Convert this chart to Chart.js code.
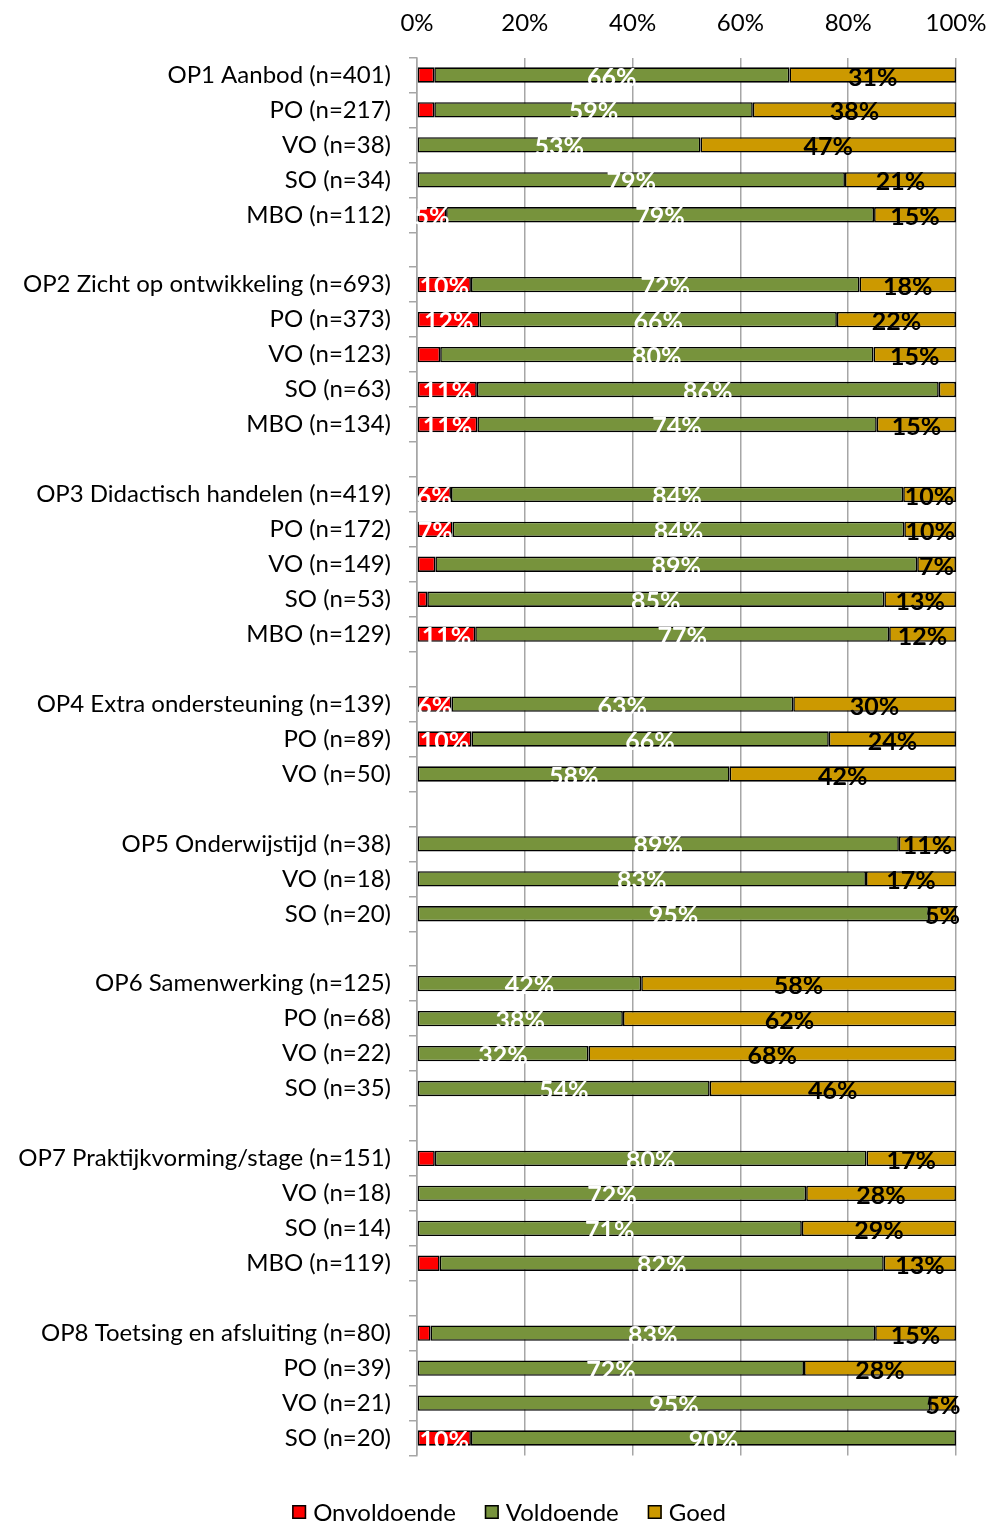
<!DOCTYPE html>
<html lang="nl">
<head>
    <meta charset="UTF-8">
    <title>Oordelen per standaard</title>
    <script src="https://cdn.jsdelivr.net/npm/chart.js"></script>
    <style>
        body {
            margin: 0;
            background: #fff;
        }
        .wrap {
            width: 988px;
            height: 1524px;
        }
    </style>
</head>
<body>
    <div class="wrap">
        <canvas id="chart"></canvas>
    </div>

    <script>
        // categorieen, lege strings zijn de witregels tussen de standaarden
        const categories = [
            'OP1 Aanbod (n=401)', 'PO (n=217)', 'VO (n=38)', 'SO (n=34)', 'MBO (n=112)', '',
            'OP2 Zicht op ontwikkeling (n=693)', 'PO (n=373)', 'VO (n=123)', 'SO (n=63)', 'MBO (n=134)', '',
            'OP3 Didactisch handelen (n=419)', 'PO (n=172)', 'VO (n=149)', 'SO (n=53)', 'MBO (n=129)', '',
            'OP4 Extra ondersteuning (n=139)', 'PO (n=89)', 'VO (n=50)', '',
            'OP5 Onderwijstijd (n=38)', 'VO (n=18)', 'SO (n=20)', '',
            'OP6 Samenwerking (n=125)', 'PO (n=68)', 'VO (n=22)', 'SO (n=35)', '',
            'OP7 Praktijkvorming/stage (n=151)', 'VO (n=18)', 'SO (n=14)', 'MBO (n=119)', '',
            'OP8 Toetsing en afsluiting (n=80)', 'PO (n=39)', 'VO (n=21)', 'SO (n=20)'
        ];

        const onvoldoende = [
            3.2, 3.2, 0, 0, 5.4, null,
            10.0, 11.6, 4.3, 11.1, 11.2, null,
            6.3, 6.6, 3.4, 1.9, 10.8, null,
            6.4, 10.1, 0, null,
            0, 0, 0, null,
            0, 0, 0, 0, null,
            3.3, 0, 0, 4.2, null,
            2.5, 0, 0, 10.0
        ];

        const voldoende = [
            65.9, 59.1, 52.6, 79.4, 79.4, null,
            72.1, 66.3, 80.4, 85.7, 74.1, null,
            83.9, 83.8, 89.4, 84.8, 76.8, null,
            63.4, 66.3, 58.0, null,
            89.4, 83.3, 95.0, null,
            41.6, 38.2, 31.8, 54.3, null,
            80.1, 72.2, 71.4, 82.4, null,
            82.5, 71.8, 95.2, 90.0
        ];

        const goed = [
            30.9, 37.7, 47.4, 20.6, 15.2, null,
            17.9, 22.1, 15.3, 3.2, 14.7, null,
            9.8, 9.6, 7.2, 13.3, 12.4, null,
            30.2, 23.6, 42.0, null,
            10.6, 16.7, 5.0, null,
            58.4, 61.8, 68.2, 45.7, null,
            16.6, 27.8, 28.6, 13.4, null,
            15.0, 28.2, 4.8, 0
        ];

        const xTicks = [0, 20, 40, 60, 80, 100];

        const FONT = 'Lato, "Open Sans", sans-serif';
        const GRID = '#a6a6a6';

        // percentages in de balken tekenen (geen datalabels plugin beschikbaar)
        const segmentLabels = {
            id: 'segmentLabels',
            afterDatasetsDraw(chart) {
                const ctx = chart.ctx;
                ctx.save();
                ctx.font = 'bold 25px ' + FONT;
                ctx.textAlign = 'center';
                ctx.textBaseline = 'middle';
                chart.data.datasets.forEach((ds, i) => {
                    const meta = chart.getDatasetMeta(i);
                    ctx.fillStyle = i === 2 ? '#000000' : '#ffffff';
                    meta.data.forEach((bar, j) => {
                        const v = ds.data[j];
                        if (v == null || Math.round(v) < 5) return;
                        const x = (bar.x + bar.base) / 2;
                        ctx.fillText(Math.round(v) + '%', x, bar.y + 2.5);
                    });
                });
                ctx.restore();
            }
        };

        // legenda onderaan, zelf getekend zodat de plek klopt
        const bottomLegend = {
            id: 'bottomLegend',
            afterDraw(chart) {
                const ctx = chart.ctx;
                const sets = chart.data.datasets;
                const box = 14, gapText = 7, gapItem = 29;
                const cy = 1512;
                ctx.save();
                ctx.font = '24px ' + FONT;
                ctx.textBaseline = 'middle';
                const widths = sets.map(ds => box + gapText + ctx.measureText(ds.label).width);
                const total = widths.reduce((a, b) => a + b, 0) + gapItem * (sets.length - 1);
                let x = 509 - total / 2;
                sets.forEach((ds, i) => {
                    ctx.fillStyle = ds.backgroundColor;
                    ctx.fillRect(x, cy - box / 2, box, box);
                    ctx.strokeStyle = '#000';
                    ctx.lineWidth = 1.5;
                    ctx.strokeRect(x + 0.75, cy - box / 2 + 0.75, box - 1.5, box - 1.5);
                    ctx.fillStyle = '#000';
                    ctx.fillText(ds.label, x + box + gapText, cy + 1);
                    x += widths[i] + gapItem;
                });
                ctx.restore();
            }
        };

        const ctx = document.getElementById('chart').getContext('2d');
        const chart = new Chart(ctx, {
            type: 'bar',
            data: {
                labels: categories,
                datasets: [
                    { label: 'Onvoldoende', data: onvoldoende, backgroundColor: '#ff0000' },
                    { label: 'Voldoende', data: voldoende, backgroundColor: '#77933c' },
                    { label: 'Goed', data: goed, backgroundColor: '#cc9900' }
                ]
            },
            options: {
                indexAxis: 'y',
                responsive: true,
                maintainAspectRatio: false,
                animation: false,
                datasets: {
                    bar: {
                        borderColor: '#000000',
                        // geen rand om lege (0%) stukken
                        borderWidth: (c) => (c.raw > 0 ? 1.6 : 0),
                        borderSkipped: false,
                        categoryPercentage: 1,
                        barPercentage: 0.44
                    }
                },
                layout: {
                    padding: { left: 0, right: 32, top: 0, bottom: 68.5 }
                },
                scales: {
                    x: {
                        position: 'top',
                        stacked: true,
                        min: 0,
                        max: 100,
                        afterBuildTicks: (scale) => {
                            scale.ticks = xTicks.map(v => ({ value: v }));
                        },
                        afterFit: (scale) => {
                            scale.height = 57.5;
                            scale.paddingLeft = 0;
                            scale.paddingRight = 0;
                        },
                        border: { display: false },
                        grid: { color: GRID, lineWidth: 1.5, drawTicks: false },
                        ticks: {
                            padding: 20,
                            color: '#000',
                            font: { family: FONT, size: 24 },
                            callback: v => v + '%'
                        }
                    },
                    y: {
                        stacked: true,
                        afterFit: (scale) => { scale.width = 417; },
                        border: { display: true, color: GRID, width: 1.5 },
                        grid: {
                            drawOnChartArea: false,
                            drawTicks: true,
                            tickLength: 8,
                            color: GRID,
                            lineWidth: 1.5
                        },
                        ticks: {
                            autoSkip: false,
                            padding: 18,
                            color: '#000',
                            font: { family: FONT, size: 24 }
                        }
                    }
                },
                plugins: {
                    legend: { display: false },
                    tooltip: { enabled: false }
                }
            },
            plugins: [segmentLabels, bottomLegend]
        });
    </script>
</body>
</html>
